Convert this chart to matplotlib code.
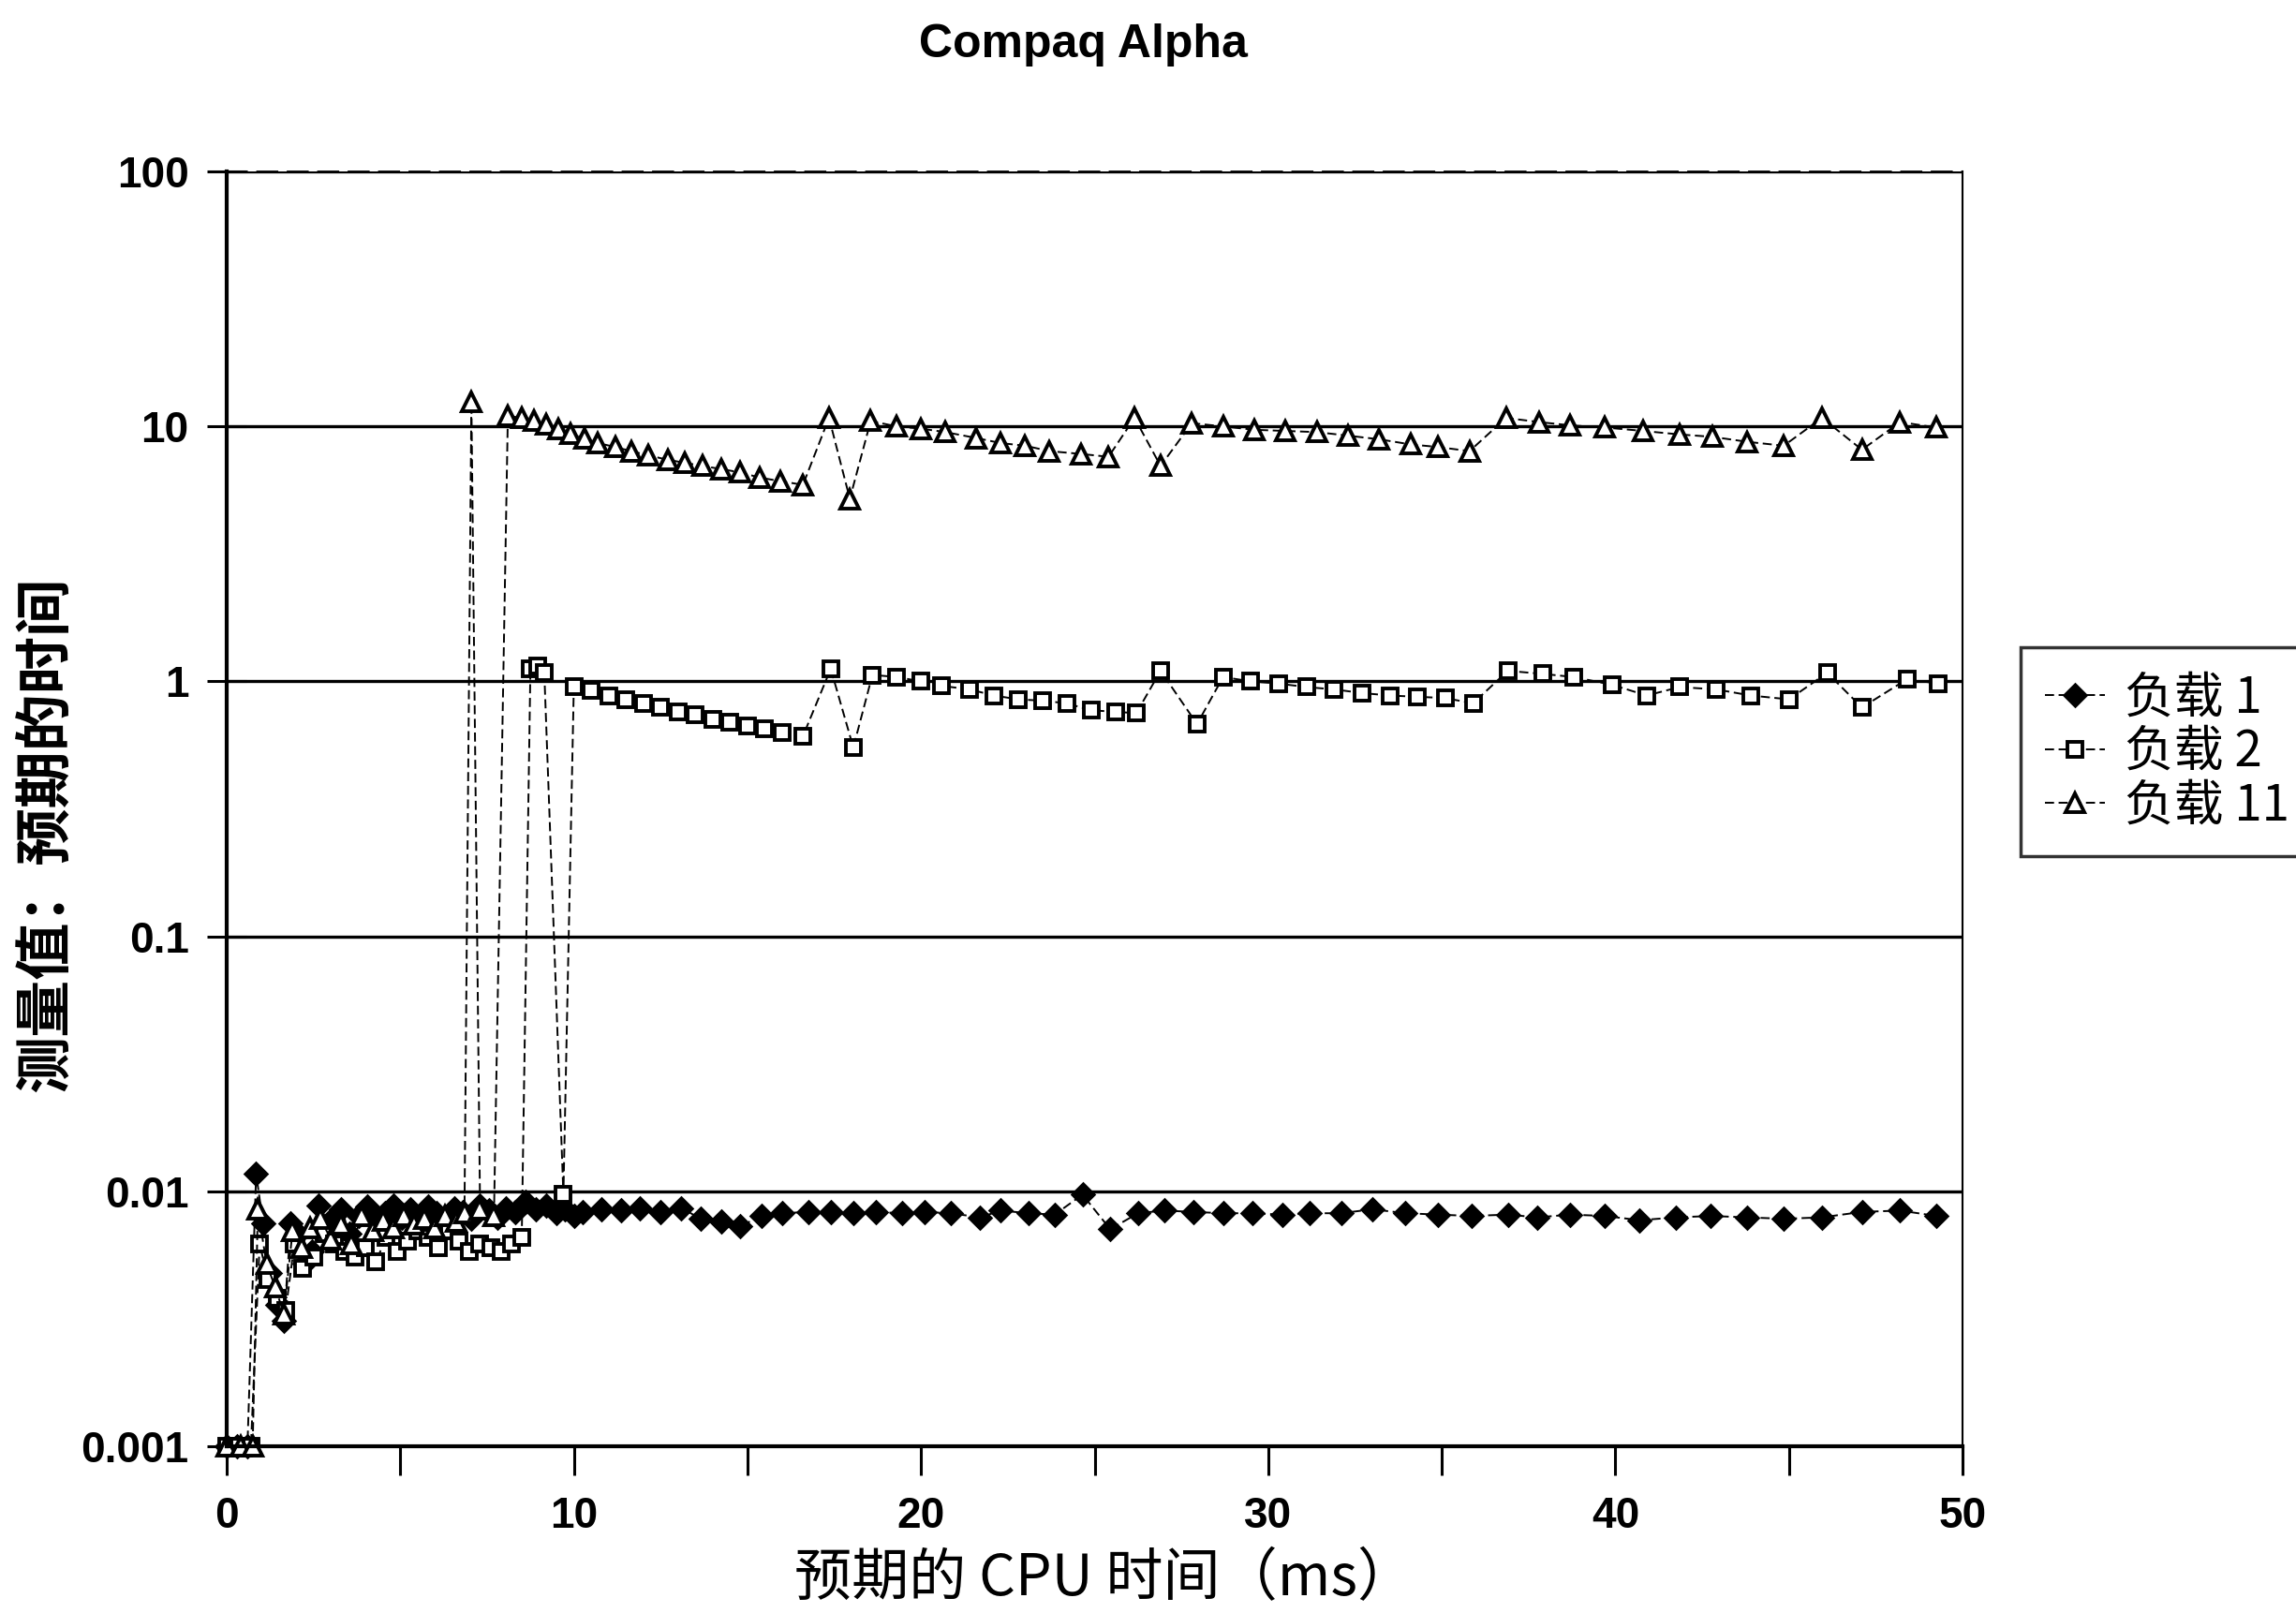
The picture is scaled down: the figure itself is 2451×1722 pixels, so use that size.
import matplotlib
matplotlib.use("Agg")
import matplotlib.pyplot as plt
from matplotlib.ticker import FixedLocator, MultipleLocator, NullLocator

# ---- data ----
title = "Compaq Alpha"
x_label = "预期的 CPU 时间（ms）"
y_label = "测量值：预期的时间"
labels = ["负载 1", "负载 2", "负载 11"]

y_ticks = [0.001, 0.01, 0.1, 1, 10, 100]
y_tick_labels = ["0.001", "0.01", "0.1", "1", "10", "100"]
x_ticks = [0, 10, 20, 30, 40, 50]

# load 1 (diamonds)
x1 = [0, 0.3, 0.6, 0.85, 1.05, 1.25, 1.45, 1.65, 1.85, 2.05,
      2.25, 2.45, 2.65, 2.85, 3.05, 3.3, 3.55, 3.8, 4.05, 4.3,
      4.55, 4.8, 5.05, 5.3, 5.55, 5.8, 6.05, 6.3, 6.55, 6.8,
      7.05, 7.3, 7.55, 7.8, 8.05, 8.3, 8.6, 8.9, 9.2, 9.5,
      9.75, 10.0,
      10.25, 10.8, 11.35, 11.9, 12.5, 13.1, 13.65, 14.25, 14.8, 15.4,
      16.0, 16.75, 17.4, 18.05, 18.7, 19.45, 20.1, 20.85, 21.7, 22.3,
      23.1, 23.85, 24.65, 25.45, 26.25, 27.0, 27.85, 28.7, 29.55, 30.4,
      31.2, 32.1, 33.0, 33.95, 34.9, 35.85, 36.9, 37.75, 38.7, 39.7,
      40.7, 41.75, 42.75, 43.8, 44.85, 45.95, 47.1, 48.2, 49.25]
y1 = [0.001, 0.001, 0.001, 0.0117, 0.0075, 0.0048, 0.0036, 0.0031, 0.0075, 0.0068,
      0.0052, 0.0058, 0.0088, 0.0072, 0.0078, 0.0085, 0.0068, 0.0080, 0.0087, 0.0076,
      0.0082, 0.0088, 0.0079, 0.0085, 0.0080, 0.0087, 0.0082, 0.0079, 0.0086, 0.0083,
      0.0078, 0.0088, 0.0084, 0.0079, 0.0086, 0.0083, 0.0091, 0.0085, 0.0088, 0.0082,
      0.0085, 0.0080,
      0.0083, 0.0085, 0.0084, 0.0086, 0.0083, 0.0086, 0.0078, 0.0076, 0.0073, 0.0080,
      0.0082, 0.0083, 0.0083, 0.0082, 0.0083, 0.0082, 0.0083, 0.0082, 0.0079, 0.0084,
      0.0082, 0.0081, 0.0097, 0.0071, 0.0082, 0.0084, 0.0083, 0.0082, 0.0082, 0.0081,
      0.0082, 0.0082, 0.0085, 0.0082, 0.0081, 0.0080, 0.0081, 0.0079, 0.0081, 0.0080,
      0.0077, 0.0079, 0.0080, 0.0079, 0.0078, 0.0079, 0.0083, 0.0084, 0.0080]

# load 2 (squares)
x2 = [0, 0.35, 0.7, 0.95, 1.2, 1.45, 1.7, 1.95, 2.2, 2.5,
      2.8, 3.1, 3.4, 3.7, 4.0, 4.3, 4.6, 4.9, 5.2, 5.5,
      5.8, 6.1, 6.4, 6.7, 7.0, 7.3, 7.6, 7.9, 8.2, 8.5,
      8.75, 8.95, 9.15, 9.7, 10.0,
      10.5, 11.0, 11.5, 12.0, 12.5, 13.0, 13.5, 14.0, 14.5, 15.0,
      15.5, 16.0, 16.6, 17.4, 18.05, 18.6, 19.3, 20.0, 20.6, 21.4,
      22.1, 22.8, 23.5, 24.2, 24.9, 25.6, 26.2, 26.9, 27.95, 28.7,
      29.5, 30.3, 31.1, 31.9, 32.7, 33.5, 34.3, 35.1, 35.9, 36.9,
      37.9, 38.8, 39.9, 40.9, 41.85, 42.9, 43.9, 45.0, 46.1, 47.1,
      48.4, 49.3]
y2 = [0.001, 0.001, 0.001, 0.0062, 0.0045, 0.0038, 0.0034, 0.0062, 0.0050, 0.0055,
      0.0068, 0.0062, 0.0058, 0.0055, 0.0060, 0.0053, 0.0066, 0.0058, 0.0064, 0.0070,
      0.0066, 0.0060, 0.0070, 0.0064, 0.0058, 0.0062, 0.0060, 0.0058, 0.0062, 0.0066,
      1.12, 1.15, 1.08, 0.0097, 0.95,
      0.92, 0.88, 0.85, 0.82, 0.79, 0.76, 0.74, 0.71, 0.69, 0.67,
      0.65, 0.63, 0.61, 1.12, 0.55, 1.06, 1.04, 1.0, 0.96, 0.93,
      0.88, 0.85, 0.84, 0.82, 0.77, 0.76, 0.75, 1.1, 0.68, 1.04,
      1.0, 0.98, 0.95, 0.93, 0.9, 0.88, 0.87, 0.86, 0.82, 1.1,
      1.07, 1.04, 0.97, 0.88, 0.95, 0.93, 0.88, 0.85, 1.08, 0.79,
      1.02, 0.98]

# load 11 (triangles)
x11 = [0, 0.4, 0.75, 0.9, 1.15, 1.4, 1.65, 1.9, 2.15, 2.4,
       2.7, 3.0, 3.3, 3.6, 3.9, 4.2, 4.5, 4.8, 5.1, 5.4,
       5.7, 6.0, 6.3, 6.6, 6.85,
       7.05, 7.3, 7.7, 8.1,
       8.5, 8.85, 9.2, 9.55, 9.9, 10.3, 10.7, 11.2, 11.65, 12.15,
       12.7, 13.2, 13.7, 14.25, 14.8, 15.35, 15.95, 16.6, 17.35, 17.95,
       18.55, 19.3, 20.0, 20.7, 21.6, 22.3, 23.0, 23.7, 24.6, 25.4,
       26.15, 26.9, 27.8, 28.7, 29.6, 30.5, 31.4, 32.3, 33.2, 34.1,
       34.9, 35.8, 36.85, 37.8, 38.7, 39.7, 40.8, 41.85, 42.8, 43.8,
       44.85, 45.95, 47.1, 48.2, 49.25]
y11 = [0.001, 0.001, 0.001, 0.0085, 0.0052, 0.0042, 0.0033, 0.0070, 0.0060, 0.0072,
       0.0078, 0.0065, 0.0074, 0.0062, 0.0080, 0.0070, 0.0077, 0.0072, 0.0080, 0.0074,
       0.0078, 0.0072, 0.0080, 0.0076, 0.0082,
       12.5, 0.0085, 0.0080, 11.0,
       10.8, 10.5, 10.2, 9.8, 9.4, 9.0, 8.6, 8.3, 8.0, 7.7,
       7.4, 7.2, 7.0, 6.8, 6.6, 6.3, 6.1, 5.9, 10.8, 5.2,
       10.5, 10.0, 9.8, 9.5, 9.0, 8.6, 8.4, 8.0, 7.8, 7.6,
       10.8, 7.0, 10.3, 10.0, 9.7, 9.6, 9.5, 9.2, 8.9, 8.5,
       8.3, 8.0, 10.8, 10.4, 10.1, 9.9, 9.6, 9.3, 9.1, 8.7,
       8.4, 10.8, 8.1, 10.4, 9.9]

cjk = ["Noto Sans CJK SC", "DejaVu Sans"]
latin = ["Liberation Sans", "DejaVu Sans"]

fig = plt.figure(figsize=(24.51, 17.22), dpi=100)
ax = fig.add_axes([0.0987, 0.1034, 0.7561, 0.7903])

line_style = dict(color="black", lw=1.4, ls=(0, (5, 2.5)), clip_on=False)
ax.plot(x1, y1, marker="D", ms=12, mfc="black", mec="black", mew=1.8,
        label=labels[0], **line_style)
ax.plot(x2, y2, marker="s", ms=12, mfc="white", mec="black", mew=2.8,
        label=labels[1], **line_style)
ax.plot(x11, y11, marker="^", ms=15, mfc="white", mec="black", mew=2.8,
        label=labels[2], **line_style)

ax.set_yscale("log")
ax.set_ylim(0.001, 100)
ax.set_xlim(0, 50)

ax.yaxis.set_major_locator(FixedLocator(y_ticks))
ax.yaxis.set_minor_locator(NullLocator())
ax.set_yticklabels(y_tick_labels)
ax.xaxis.set_major_locator(FixedLocator(x_ticks))
ax.xaxis.set_minor_locator(MultipleLocator(5))

ax.yaxis.grid(True, which="major", color="black", lw=2.4)
ax.set_axisbelow(True)

ax.tick_params(axis="y", which="major", direction="inout", length=30, width=2.2,
               pad=14, labelsize=33)
ax.tick_params(axis="x", which="both", direction="out", length=22, width=2.2,
               pad=16, labelsize=33)
for lab in ax.get_xticklabels() + ax.get_yticklabels():
    lab.set_family(latin)
    lab.set_fontweight("bold")

ax.spines["left"].set_linewidth(3)
ax.spines["bottom"].set_linewidth(3)
ax.spines["right"].set_linewidth(1.5)
ax.spines["top"].set_linewidth(1.3)
ax.spines["top"].set_linestyle((0, (12, 6)))

fig.text(0.472, 0.972, title, ha="center", va="center", fontsize=36,
         fontweight="bold", family=latin)
fig.text(0.481, 0.021, x_label, ha="center", va="center", fontsize=44,
         family=cjk)
fig.text(0.0204, 0.4826, y_label, ha="center", va="center", fontsize=44,
         rotation=90, family=cjk, fontweight="bold")

leg = ax.legend(loc="upper left", bbox_to_anchor=(0.880, 0.5987),
                bbox_transform=fig.transFigure, frameon=True, fancybox=False,
                prop={"family": cjk, "size": 38}, handlelength=1.2,
                handletextpad=0.4, labelspacing=0.05, borderpad=0.5,
                borderaxespad=0)
leg.get_frame().set_edgecolor("black")
leg.get_frame().set_linewidth(2.5)

fig.savefig("out.png", dpi=100, facecolor="white")
